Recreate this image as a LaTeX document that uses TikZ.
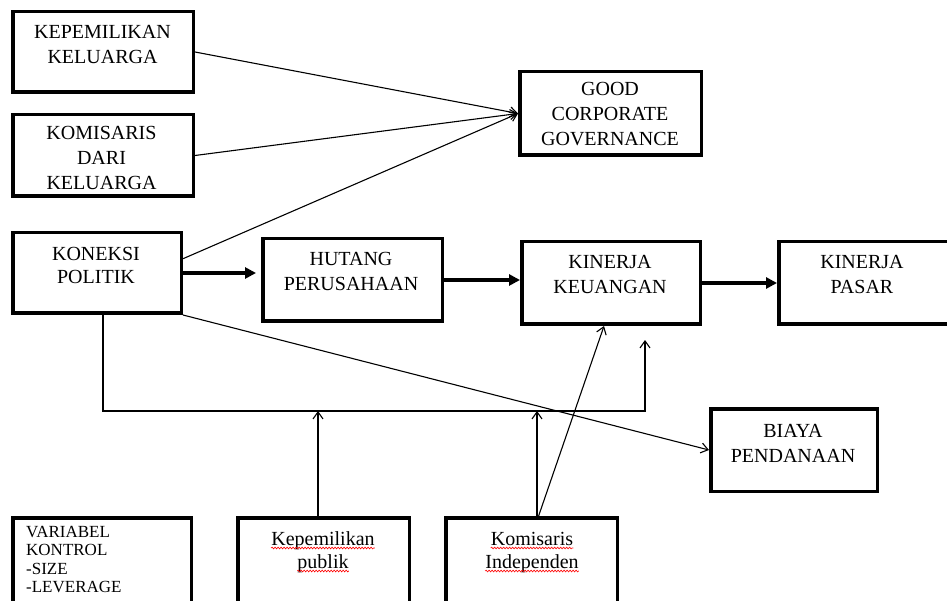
\documentclass[tikz,border=0pt]{standalone}
\usepackage{fontspec}
\setmainfont{Liberation Serif}
\usetikzlibrary{arrows.meta,calc,decorations.pathmorphing}
\begin{document}
\begin{tikzpicture}[x=1pt,y=-1pt,
 box/.style={draw, line width=3.5pt, inner sep=0pt},
 lbl/.style={font=\fontsize{20}{25}\selectfont, align=center, inner sep=0pt, anchor=north},
 word/.style={font=\fontsize{20}{25}\selectfont, inner sep=0pt, anchor=base},
 conn/.style={line width=1.1pt, -{Straight Barb[length=7pt,width=10pt]}},
 bigarr/.style={line width=3.8pt, -{Triangle[length=11pt,width=11pt]}},
 squig/.style={red, line width=0.6pt, decorate, decoration={snake, amplitude=0.9pt, segment length=3pt}}]
\useasboundingbox (0,0) rectangle (947,601);
\fill[white] (0,0) rectangle (947,601);

% boxes
\node[box, minimum width=180.5pt, minimum height=80.5pt] (kk) at (103,52) {};
\node[lbl] at (102.5,24.7) {KEPEMILIKAN\\KELUARGA};

\node[box, minimum width=180.5pt, minimum height=81.5pt] (kdk) at (103,155.5) {};
\node[lbl] at (101.5,125.7) {KOMISARIS\\DARI\\KELUARGA};

\node[box, minimum width=181.5pt, minimum height=83.5pt] (gcg) at (610.5,113.5) {};
\node[lbl] at (610,81.7) {GOOD\\CORPORATE\\GOVERNANCE};

\node[box, minimum width=168.5pt, minimum height=80.5pt] (kp) at (97,273) {};
\node[lbl, font=\fontsize{20}{23.5}\selectfont] at (96,246.7) {KONEKSI\\POLITIK};

\node[box, minimum width=179.5pt, minimum height=82.5pt] (hp) at (352.5,280) {};
\node[lbl] at (351,251.7) {HUTANG\\PERUSAHAAN};

\node[box, minimum width=178.5pt, minimum height=82.5pt] (kku) at (611,283) {};
\node[lbl] at (610,254.7) {KINERJA\\KEUANGAN};

\node[box, minimum width=174.5pt, minimum height=82.5pt] (ps) at (866,283) {};
\node[lbl] at (862,254.7) {KINERJA\\PASAR};

\node[box, minimum width=166.5pt, minimum height=82.5pt] (bp) at (794,450) {};
\node[lbl] at (793,423.7) {BIAYA\\PENDANAAN};

\node[box, minimum width=178.5pt, minimum height=90pt] (vk) at (102,563) {};
\node[font=\fontsize{17}{18.5}\selectfont, align=left, inner sep=0pt, anchor=north west] at (26,525.8) {VARIABEL\\KONTROL\\-SIZE\\-LEVERAGE};

\node[box, minimum width=171.5pt, minimum height=90pt] (kpub) at (323.5,563) {};
\node[word] (w1) at (323,545) {Kepemilikan};
\node[word] (w2) at (323,568) {publik};

\node[box, minimum width=171.5pt, minimum height=90pt] (ki) at (531.5,563) {};
\node[word] (w3) at (532,545) {Komisaris};
\node[word] (w4) at (532,568) {Independen};

\foreach \w in {w1,w2,w3,w4}
  \draw[squig] ([yshift=-3pt]\w.base west) -- ([yshift=-3pt]\w.base east);

% connectors
\draw[conn] (kk.east) -- (gcg.west);
\draw[conn] (kdk.east) -- (gcg.west);
\draw[conn] ($(kp.north east)!0.33!(kp.south east)$) -- (gcg.west);
\draw[conn] (kp.south east) -- (bp.west);

\draw[bigarr, shorten >=5pt] (kp.east) -- (kp.east -| hp.west);
\draw[bigarr] (hp.east) -- (hp.east -| kku.west);
\draw[bigarr] (kku.east) -- (kku.east -| ps.west);

\coordinate (b1) at (103,411);
\coordinate (b2) at (645,411);
\coordinate (b3) at (645,340);
\draw[conn] (kp.south -| b1) -- (b1) -- (b2) -- (b3);
\draw[conn] ([xshift=-5.5pt]kpub.north) -- ([xshift=-5.5pt]kpub.north |- b1);
\draw[conn] ([xshift=5.5pt]ki.north) -- ([xshift=5.5pt]ki.north |- b1);
\draw[conn] ([xshift=7pt]ki.north) -- ([xshift=-7pt]kku.south);
\end{tikzpicture}
\end{document}
